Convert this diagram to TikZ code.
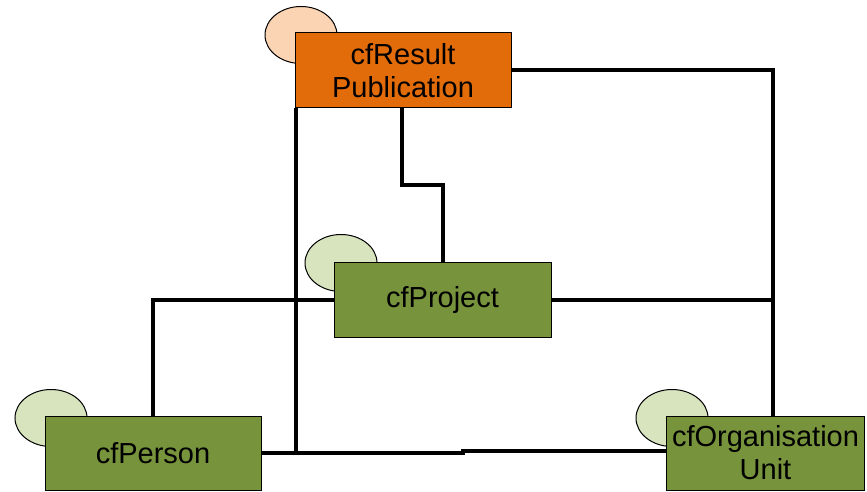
\documentclass[tikz,border=0pt]{standalone}
\usepackage{fontspec}
\setmainfont{Liberation Sans}
\usetikzlibrary{shapes.geometric,backgrounds}
\definecolor{orbox}{RGB}{227,108,10}
\definecolor{orell}{RGB}{251,212,180}
\definecolor{grbox}{RGB}{119,147,60}
\definecolor{grell}{RGB}{215,228,189}
\tikzset{
  ent/.style={draw=black, line width=1pt, inner sep=0pt, align=center,
    font=\fontsize{29}{33}\selectfont, text=black},
  tag/.style={draw=black, line width=1pt, ellipse, inner sep=0pt,
    minimum width=72pt, minimum height=57pt},
  link/.style={line width=4pt, line join=miter}
}
\begin{document}
\begin{tikzpicture}[x=1pt,y=-1pt]
\useasboundingbox (0,0) rectangle (867,492);
\node[ent, fill=orbox, minimum width=216pt, minimum height=75pt] (res) at (403,70.5) {cfResult\\Publication};
\node[ent, fill=grbox, minimum width=217pt, minimum height=75pt] (prj) at (442.5,299.5) {cfProject};
\node[ent, fill=grbox, minimum width=216pt, minimum height=74pt] (per) at (153,453) {cfPerson};
\node[ent, fill=grbox, minimum width=198pt, minimum height=74pt] (org) at (765.5,453) {cfOrganisation\\Unit};
\coordinate (jx) at (296,0);
\coordinate (jr) at (773,0);
\coordinate (jog) at (463,0);
\begin{scope}[on background layer]
\node[tag, fill=orell] (rest) at (301,35) {};
\node[tag, fill=grell] (prjt) at (341,263) {};
\node[tag, fill=grell] (pert) at (51,418) {};
\node[tag, fill=grell] (orgt) at (672,418) {};
\draw[link] (res.east) -| (org.north -| jr);
\draw[link] ([xshift=-1pt]res.south) -- ++(0,76) -| (prj.north);
\draw[link] (res.south -| jx) -- (per.east -| jx);
\draw[link] (per.east) -- (per.east -| jog) -- ([yshift=2pt]per.east -| jog) -- ([yshift=2pt]org.west);
\draw[link] (prj.west) -| (per.north);
\draw[link] (prj.east) -- (prj.east -| jr);
\end{scope}
\end{tikzpicture}
\end{document}
